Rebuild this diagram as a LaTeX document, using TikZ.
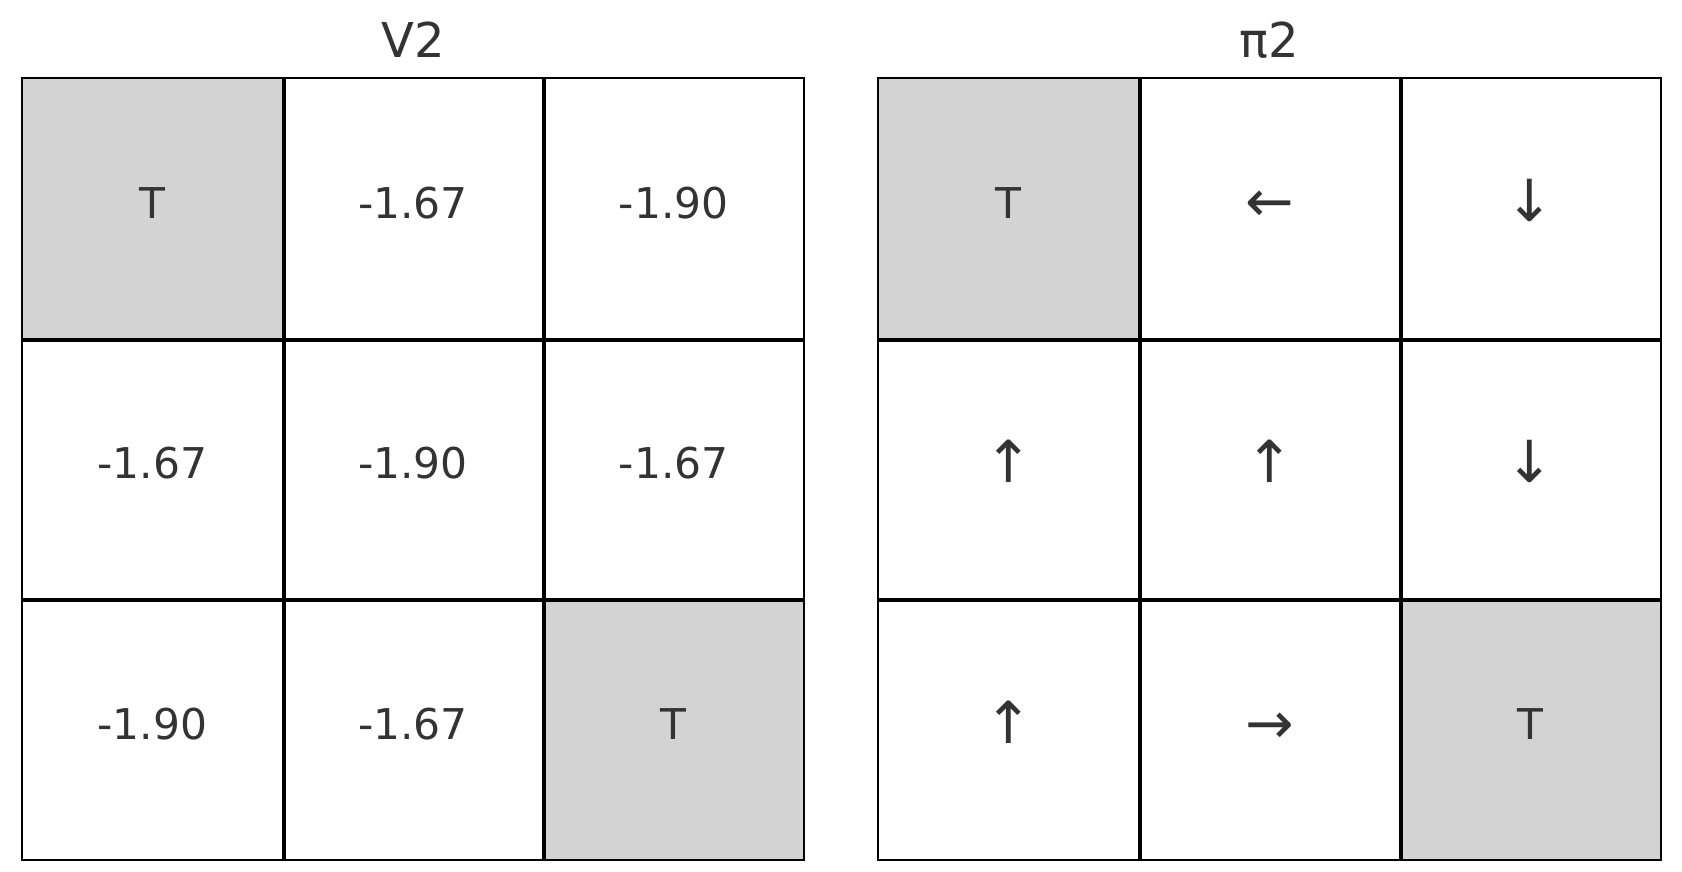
\documentclass[tikz,border=0pt]{standalone}
\usepackage{fontspec}
\setmainfont{DejaVu Sans}
\begin{document}
\begin{tikzpicture}[x=0.5pt,y=-0.5pt]
\definecolor{txt}{HTML}{333333}
\definecolor{term}{HTML}{D3D3D3}
\tikzset{
  cellbox/.style={draw=black, line width=1pt, minimum size=130.33pt, inner sep=0pt,
    text=txt, font=\fontsize{21.2}{26}\selectfont, text height=15.5pt, text depth=5.7pt},
  termbox/.style={cellbox, fill=term},
  arrowbox/.style={cellbox, font=\fontsize{29}{34}\selectfont, text height=21pt, text depth=7.5pt},
  gridline/.style={line width=1.9pt, black},
  title/.style={text=txt, font=\fontsize{24}{29}\selectfont, inner sep=0pt}
}
\useasboundingbox (0,0) rectangle (1682,872);
% left grid V2
\node[title] (tV) at (413,40) {V2};
\node[termbox] (a00) at (152.3,208.3) {T};
\node[cellbox] (a01) at (413,208.3) {-1.67};
\node[cellbox] (a02) at (673.7,208.3) {-1.90};
\node[cellbox] (a10) at (152.3,469) {-1.67};
\node[cellbox] (a11) at (413,469) {-1.90};
\node[cellbox] (a12) at (673.7,469) {-1.67};
\node[cellbox] (a20) at (152.3,729.7) {-1.90};
\node[cellbox] (a21) at (413,729.7) {-1.67};
\node[termbox] (a22) at (673.7,729.7) {T};
\draw[gridline] (a00.north east) -- (a20.south east);
\draw[gridline] (a01.north east) -- (a21.south east);
\draw[gridline] (a00.south west) -- (a02.south east);
\draw[gridline] (a10.south west) -- (a12.south east);
% right grid pi2
\node[title] (tP) at (1269.5,40) {π2};
\node[termbox] (b00) at (1008.8,208.3) {T};
\node[arrowbox] (b01) at (1269.5,208.3) {←};
\node[arrowbox] (b02) at (1530.2,208.3) {↓};
\node[arrowbox] (b10) at (1008.8,469) {↑};
\node[arrowbox] (b11) at (1269.5,469) {↑};
\node[arrowbox] (b12) at (1530.2,469) {↓};
\node[arrowbox] (b20) at (1008.8,729.7) {↑};
\node[arrowbox] (b21) at (1269.5,729.7) {→};
\node[termbox] (b22) at (1530.2,729.7) {T};
\draw[gridline] (b00.north east) -- (b20.south east);
\draw[gridline] (b01.north east) -- (b21.south east);
\draw[gridline] (b00.south west) -- (b02.south east);
\draw[gridline] (b10.south west) -- (b12.south east);
\end{tikzpicture}
\end{document}
